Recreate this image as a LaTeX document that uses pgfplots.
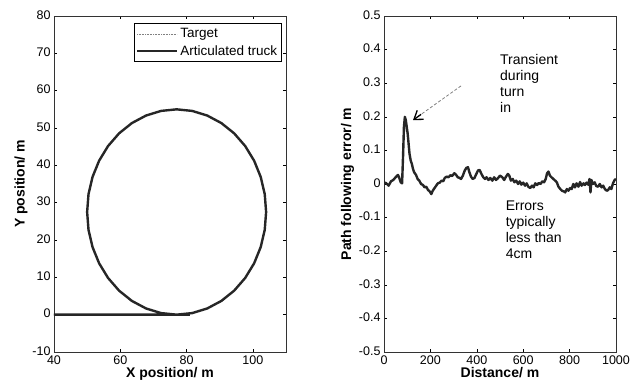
\documentclass[border=0pt]{standalone}
\usepackage{fontspec}
\setmainfont{Liberation Sans}
\usepackage{pgfplots}
\pgfplotsset{compat=1.18}
\usetikzlibrary{arrows.meta}
\begin{document}
\begin{tikzpicture}
\path[use as bounding box] (-54pt,-34pt) rectangle (579pt,352pt);
\pgfplotsset{
  every axis/.append style={
    scale only axis,
    width=232pt, height=336pt,
    axis line style={line width=0.7pt, black!80},
    tick align=inside,
    tick style={black, line width=0.5pt},
    major tick length=3pt,
    /pgf/number format/assume math mode=true,
    /pgf/number format/1000 sep={},
    tick label style={font=\fontsize{12.5}{14}\selectfont},
    xticklabel style={yshift=0pt},
    yticklabel style={yshift=1pt},
    label style={font=\fontsize{14}{16}\selectfont\bfseries},
  }
}
\begin{axis}[
  name=left,
  at={(0pt,0pt)},
  xmin=40, xmax=110, ymin=-10, ymax=80,
  xtick={40,60,80,100},
  ytick={-10,0,10,20,30,40,50,60,70,80},
  xlabel={X position/ m},
  ylabel={Y position/ m},
  xlabel style={yshift=4pt},
  ylabel style={yshift=-2pt},
  legend style={at={(rel axis cs:0.98,0.978)}, anchor=north east,
    font=\fontsize{13.5}{16}\selectfont, draw=black, line width=0.6pt,
    inner xsep=2pt, inner ysep=3pt, row sep=2pt, cells={anchor=west}},
  legend image code/.code={\draw[#1] (0pt,0pt) -- (40pt,0pt);},
]
\addplot[gray, densely dotted, line width=0.6pt] coordinates {
(40,0) (50,0) (60,0) (70,0) (77,0)
(81.69,0.42) (86.23,1.66) (90.5,3.68) (94.36,6.43) (97.68,9.82) (100.38,13.75)
(102.37,18.10) (103.59,22.73) (104,27.5) (103.59,32.27) (102.37,36.90) (100.38,41.25)
(97.68,45.18) (94.36,48.57) (90.5,51.32) (86.23,53.34) (81.69,54.58) (77,55)
(72.31,54.58) (67.77,53.34) (63.5,51.32) (59.64,48.57) (56.32,45.18) (53.62,41.25)
(51.63,36.90) (50.41,32.27) (50,27.5) (50.41,22.73) (51.63,18.10) (53.62,13.75)
(56.32,9.82) (59.64,6.43) (63.5,3.68) (67.77,1.66) (72.31,0.42) (77,0)
};
\addlegendentry{Target}
\addplot[black!85, line width=2.4pt] coordinates {
(40,0) (50,0) (60,0) (70,0) (77,0)
(81.69,0.42) (86.23,1.66) (90.5,3.68) (94.36,6.43) (97.68,9.82) (100.38,13.75)
(102.37,18.10) (103.59,22.73) (104,27.5) (103.59,32.27) (102.37,36.90) (100.38,41.25)
(97.68,45.18) (94.36,48.57) (90.5,51.32) (86.23,53.34) (81.69,54.58) (77,55)
(72.31,54.58) (67.77,53.34) (63.5,51.32) (59.64,48.57) (56.32,45.18) (53.62,41.25)
(51.63,36.90) (50.41,32.27) (50,27.5) (50.41,22.73) (51.63,18.10) (53.62,13.75)
(56.32,9.82) (59.64,6.43) (63.5,3.68) (67.77,1.66) (72.31,0.42) (77,0) (81,0)
};
\addlegendentry{Articulated truck}
\end{axis}
\begin{axis}[
  name=right,
  at={(330pt,0pt)},
  xmin=0, xmax=1000, ymin=-0.5, ymax=0.5,
  xtick={0,200,400,600,800,1000},
  ytick={-0.5,-0.4,-0.3,-0.2,-0.1,0,0.1,0.2,0.3,0.4,0.5},
  yticklabels={-0.5,-0.4,-0.3,-0.2,-0.1,0,0.1,0.2,0.3,0.4,0.5},
  xlabel={Distance/ m},
  ylabel={Path following error/ m},
  xlabel style={yshift=4pt},
  ylabel style={yshift=-2pt},
]
\addplot[black!85, line width=2.4pt, line join=round] coordinates {
(0,0.005) (10,0.002) (20,-0.005) (30,0.008) (40,0.012) (50,0.02) (60,0.027) (65,0.02)
(72,0.005) (78,0.002) (82,0.08) (86,0.17) (90,0.2) (94,0.19) (98,0.17) (102,0.15)
(106,0.12) (110,0.09) (115,0.07) (120,0.06) (125,0.045) (130,0.035) (138,0.027)
(145,0.015) (152,0.01) (160,0.0) (168,-0.003) (175,-0.01) (182,-0.008) (190,-0.018)
(197,-0.022) (204,-0.03) (210,-0.02) (218,-0.012) (225,-0.005) (232,0.002) (240,0.004)
(248,0.01) (255,0.008) (262,0.018) (270,0.022) (278,0.02) (286,0.026) (294,0.024)
(303,0.032) (310,0.028) (318,0.02) (326,0.018) (332,0.015) (340,0.025) (348,0.04)
(355,0.048) (362,0.05) (368,0.035) (375,0.022) (382,0.015) (390,0.018) (398,0.03)
(405,0.04) (412,0.042) (420,0.03) (428,0.02) (435,0.015) (442,0.02) (450,0.012)
(458,0.018) (467,0.01) (475,0.02) (483,0.012) (492,0.018) (500,0.025) (510,0.02)
(518,0.012) (526,0.022) (534,0.03) (540,0.025) (547,0.01) (555,0.015) (562,0.005)
(570,0.01) (578,0.0) (585,0.008) (592,-0.002) (600,0.004) (608,-0.005) (615,0.002)
(622,-0.008) (630,-0.012) (638,-0.005) (645,-0.01) (652,0.002) (660,-0.003) (667,0.003)
(675,0.0) (682,0.008) (690,0.005) (697,0.015) (703,0.032) (709,0.037) (715,0.025)
(722,0.02) (730,0.015) (738,0.01) (745,0.005) (752,-0.008) (760,-0.015) (767,-0.02)
(775,-0.022) (781,-0.025) (788,-0.015) (795,-0.02) (802,-0.012) (809,-0.015) (816,0.0)
(823,-0.01) (830,0.002) (838,-0.008) (845,0.006) (852,-0.005) (860,0.002) (866,-0.003)
(873,0.004) (880,-0.002) (886,0.015) (890,-0.025) (894,0.012) (900,0.0) (908,0.005)
(915,-0.006) (923,-0.008) (930,0.0) (938,-0.01) (945,-0.005) (952,-0.015) (960,-0.02)
(966,-0.018) (973,-0.01) (980,-0.015) (987,0.002) (994,0.012) (1000,0.015)
};
\draw[gray, densely dashed, line width=0.8pt]
  (axis cs:332,0.292) -- (axis cs:135,0.195);
\draw[black, line width=1.3pt, -{Straight Barb[length=8pt, width=11pt]}]
  (axis cs:160,0.2073) -- (axis cs:125,0.19);
\node[anchor=north west, align=left, inner sep=0pt, font=\fontsize{14}{16}\selectfont]
  at (axis cs:500,0.385) {Transient\\during\\turn\\in};
\node[anchor=north west, align=left, inner sep=0pt, font=\fontsize{14}{16}\selectfont]
  at (axis cs:524,-0.05) {Errors\\typically\\less than\\4cm};
\end{axis}
\end{tikzpicture}
\end{document}
